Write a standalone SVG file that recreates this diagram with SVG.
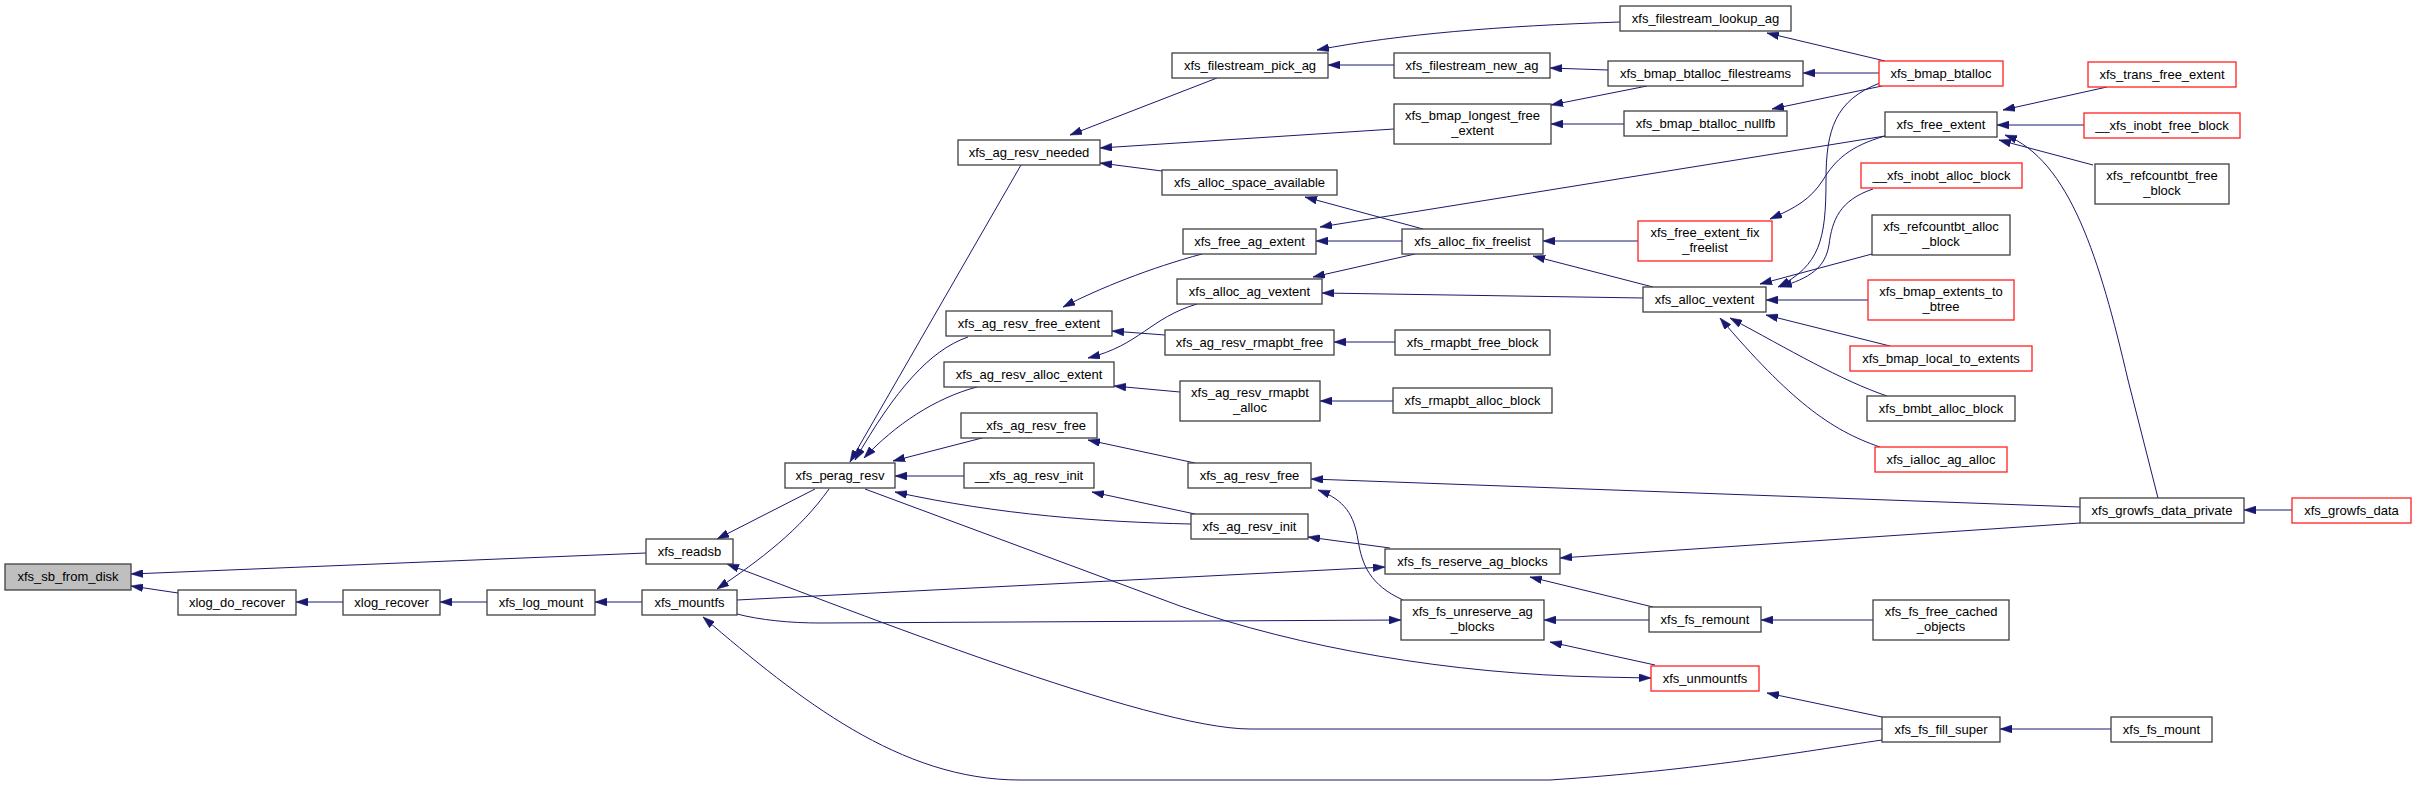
<svg xmlns="http://www.w3.org/2000/svg" width="2416" height="785" viewBox="0 0 2416 785">
<style>
.n rect{fill:#fff;stroke:#404040;stroke-width:1.3}
.r rect{fill:#fff;stroke:#ff2020;stroke-width:1.3}
.root rect{fill:#bfbfbf;stroke:#404040;stroke-width:1.3}
text{font-family:"Liberation Sans",Arial,sans-serif;font-size:13px;text-anchor:middle;fill:#000}
#edges path{fill:none;stroke:#191970;stroke-width:1;marker-end:url(#ah)}
</style>
<defs>
<marker id="ah" viewBox="0 0 12 8" refX="12" refY="4" markerWidth="12" markerHeight="8" markerUnits="userSpaceOnUse" orient="auto">
<path d="M0,0 L12,4 L0,8 z" fill="#191970" stroke="#191970" stroke-width="0.5"/>
</marker>
</defs>
<rect width="2416" height="785" fill="#fff"/>
<g id="edges">
<path d="M646,553 L131,574"/>
<path d="M178,593 L131,586"/>
<path d="M343,602 L296,602"/>
<path d="M487,602 L440,602"/>
<path d="M642,602 L595,602"/>
<path d="M815,489 L717,539"/>
<path d="M829,489 C800,530 760,560 717,589"/>
<path d="M1882,729 L1250,729 C1150,729 850,610 727,564"/>
<path d="M1882,740 C1800,752 1700,770 1550,780 L1020,780 C900,780 800,700 703,617"/>
<path d="M737,600 L1385,567"/>
<path d="M737,614 C760,620 790,623 820,623 L1401,620"/>
<path d="M865,489 L1180,606 C1300,648 1450,674 1600,677 L1651,678"/>
<path d="M1191,524 C1100,522 1000,515 895,492"/>
<path d="M964,476 L895,476"/>
<path d="M982,438 L893,461"/>
<path d="M1021,165 L850,462"/>
<path d="M968,337 C930,350 895,390 855,460"/>
<path d="M977,387 C935,398 895,425 864,458"/>
<path d="M1217,78 L1070,135"/>
<path d="M1394,129 L1100,148"/>
<path d="M1162,171 L1100,163"/>
<path d="M1202,254 C1150,268 1100,288 1063,307"/>
<path d="M1165,335 L1112,331"/>
<path d="M1197,304 C1150,318 1140,345 1088,358"/>
<path d="M1180,392 L1114,386"/>
<path d="M1620,22 C1500,26 1400,34 1317,50"/>
<path d="M1394,65 L1328,65"/>
<path d="M1608,70 L1550,68"/>
<path d="M1647,86 L1551,105"/>
<path d="M1624,124 L1551,124"/>
<path d="M1423,229 L1305,197"/>
<path d="M1885,136 L1320,227"/>
<path d="M1402,241 L1316,241"/>
<path d="M1415,254 L1313,277"/>
<path d="M1643,298 L1322,293"/>
<path d="M1638,241 L1543,241"/>
<path d="M1653,287 L1533,256"/>
<path d="M1395,342 L1334,342"/>
<path d="M1393,401 L1320,401"/>
<path d="M1885,61 L1767,33"/>
<path d="M1879,73 L1803,73"/>
<path d="M1882,86 L1772,109"/>
<path d="M1880,83 C1835,100 1826,130 1826,180 C1826,240 1820,265 1778,287"/>
<path d="M1885,136 C1850,146 1835,160 1823,180 C1810,200 1795,208 1770,219"/>
<path d="M1873,189 C1840,200 1832,220 1829,245 C1825,268 1810,278 1780,287"/>
<path d="M1872,254 L1760,284"/>
<path d="M1868,300 L1766,300"/>
<path d="M1890,346 L1766,315"/>
<path d="M1887,396 C1840,380 1790,350 1730,318"/>
<path d="M1880,447 C1830,430 1790,400 1720,318"/>
<path d="M2107,87 L2003,110"/>
<path d="M2084,125 L1997,125"/>
<path d="M2093,165 L1999,140"/>
<path d="M2158,498 L2128,380 C2100,260 2070,160 2005,135"/>
<path d="M2292,510 L2244,510"/>
<path d="M2080,507 L1311,479"/>
<path d="M2080,523 L1560,558"/>
<path d="M1653,607 L1530,577"/>
<path d="M1649,620 L1544,620"/>
<path d="M1655,665 L1550,642"/>
<path d="M1873,620 L1761,620"/>
<path d="M1882,717 L1767,693"/>
<path d="M2111,729 L2000,729"/>
<path d="M1403,600 C1370,585 1362,565 1358,540 C1354,515 1345,500 1318,490"/>
<path d="M1390,548 L1308,537"/>
<path d="M1195,463 L1088,440"/>
<path d="M1195,514 L1092,492"/>
</g>
<g id="n0" class="root"><rect x="5" y="564" width="126" height="26"/><text x="68" y="581">xfs_sb_from_disk</text></g>
<g id="n1" class="n"><rect x="646" y="539" width="87" height="25"/><text x="689.5" y="556">xfs_readsb</text></g>
<g id="n2" class="n"><rect x="178" y="590" width="118" height="25"/><text x="237" y="607">xlog_do_recover</text></g>
<g id="n3" class="n"><rect x="343" y="590" width="97" height="25"/><text x="391.5" y="607">xlog_recover</text></g>
<g id="n4" class="n"><rect x="487" y="590" width="108" height="25"/><text x="541" y="607">xfs_log_mount</text></g>
<g id="n5" class="n"><rect x="642" y="590" width="95" height="25"/><text x="689.5" y="607">xfs_mountfs</text></g>
<g id="n6" class="n"><rect x="785" y="463" width="110" height="25"/><text x="840" y="480">xfs_perag_resv</text></g>
<g id="n7" class="n"><rect x="958" y="140" width="142" height="25"/><text x="1029" y="157">xfs_ag_resv_needed</text></g>
<g id="n8" class="n"><rect x="946" y="311" width="166" height="25"/><text x="1029" y="328">xfs_ag_resv_free_extent</text></g>
<g id="n9" class="n"><rect x="944" y="362" width="170" height="25"/><text x="1029" y="379">xfs_ag_resv_alloc_extent</text></g>
<g id="n10" class="n"><rect x="961" y="413" width="136" height="25"/><text x="1029" y="430">__xfs_ag_resv_free</text></g>
<g id="n11" class="n"><rect x="964" y="463" width="130" height="25"/><text x="1029" y="480">__xfs_ag_resv_init</text></g>
<g id="n12" class="n"><rect x="1172" y="53" width="156" height="25"/><text x="1250" y="70">xfs_filestream_pick_ag</text></g>
<g id="n13" class="n"><rect x="1162" y="170" width="175" height="25"/><text x="1249.5" y="187">xfs_alloc_space_available</text></g>
<g id="n14" class="n"><rect x="1183" y="229" width="133" height="25"/><text x="1249.5" y="246">xfs_free_ag_extent</text></g>
<g id="n15" class="n"><rect x="1177" y="279" width="145" height="25"/><text x="1249.5" y="296">xfs_alloc_ag_vextent</text></g>
<g id="n16" class="n"><rect x="1165" y="330" width="169" height="25"/><text x="1249.5" y="347">xfs_ag_resv_rmapbt_free</text></g>
<g id="n17" class="n"><rect x="1180" y="381" width="140" height="40"/><text x="1250" y="397">xfs_ag_resv_rmapbt</text><text x="1250" y="412">_alloc</text></g>
<g id="n18" class="n"><rect x="1188" y="463" width="123" height="25"/><text x="1249.5" y="480">xfs_ag_resv_free</text></g>
<g id="n19" class="n"><rect x="1191" y="514" width="117" height="25"/><text x="1249.5" y="531">xfs_ag_resv_init</text></g>
<g id="n20" class="n"><rect x="1394" y="53" width="156" height="25"/><text x="1472" y="70">xfs_filestream_new_ag</text></g>
<g id="n21" class="n"><rect x="1394" y="104" width="157" height="40"/><text x="1472.5" y="120">xfs_bmap_longest_free</text><text x="1472.5" y="135">_extent</text></g>
<g id="n22" class="n"><rect x="1402" y="229" width="141" height="25"/><text x="1472.5" y="246">xfs_alloc_fix_freelist</text></g>
<g id="n23" class="n"><rect x="1395" y="330" width="155" height="25"/><text x="1472.5" y="347">xfs_rmapbt_free_block</text></g>
<g id="n24" class="n"><rect x="1393" y="388" width="159" height="25"/><text x="1472.5" y="405">xfs_rmapbt_alloc_block</text></g>
<g id="n25" class="n"><rect x="1385" y="549" width="175" height="25"/><text x="1472.5" y="566">xfs_fs_reserve_ag_blocks</text></g>
<g id="n26" class="n"><rect x="1401" y="600" width="143" height="40"/><text x="1472.5" y="616">xfs_fs_unreserve_ag</text><text x="1472.5" y="631">_blocks</text></g>
<g id="n27" class="n"><rect x="1620" y="6" width="171" height="25"/><text x="1705.5" y="23">xfs_filestream_lookup_ag</text></g>
<g id="n28" class="n"><rect x="1608" y="61" width="195" height="25"/><text x="1705.5" y="78">xfs_bmap_btalloc_filestreams</text></g>
<g id="n29" class="n"><rect x="1624" y="111" width="163" height="25"/><text x="1705.5" y="128">xfs_bmap_btalloc_nullfb</text></g>
<g id="n30" class="r"><rect x="1638" y="221" width="134" height="40"/><text x="1705" y="237">xfs_free_extent_fix</text><text x="1705" y="252">_freelist</text></g>
<g id="n31" class="n"><rect x="1643" y="287" width="123" height="25"/><text x="1704.5" y="304">xfs_alloc_vextent</text></g>
<g id="n32" class="n"><rect x="1649" y="607" width="112" height="25"/><text x="1705" y="624">xfs_fs_remount</text></g>
<g id="n33" class="r"><rect x="1651" y="666" width="108" height="25"/><text x="1705" y="683">xfs_unmountfs</text></g>
<g id="n34" class="r"><rect x="1879" y="61" width="124" height="25"/><text x="1941" y="78">xfs_bmap_btalloc</text></g>
<g id="n35" class="n"><rect x="1885" y="112" width="112" height="25"/><text x="1941" y="129">xfs_free_extent</text></g>
<g id="n36" class="r"><rect x="1861" y="163" width="161" height="25"/><text x="1941.5" y="180">__xfs_inobt_alloc_block</text></g>
<g id="n37" class="n"><rect x="1872" y="215" width="138" height="40"/><text x="1941" y="231">xfs_refcountbt_alloc</text><text x="1941" y="246">_block</text></g>
<g id="n38" class="r"><rect x="1868" y="280" width="146" height="40"/><text x="1941" y="296">xfs_bmap_extents_to</text><text x="1941" y="311">_btree</text></g>
<g id="n39" class="r"><rect x="1850" y="346" width="182" height="25"/><text x="1941" y="363">xfs_bmap_local_to_extents</text></g>
<g id="n40" class="n"><rect x="1867" y="396" width="148" height="25"/><text x="1941" y="413">xfs_bmbt_alloc_block</text></g>
<g id="n41" class="r"><rect x="1875" y="447" width="132" height="25"/><text x="1941" y="464">xfs_ialloc_ag_alloc</text></g>
<g id="n42" class="n"><rect x="1873" y="600" width="136" height="40"/><text x="1941" y="616">xfs_fs_free_cached</text><text x="1941" y="631">_objects</text></g>
<g id="n43" class="n"><rect x="1882" y="717" width="118" height="25"/><text x="1941" y="734">xfs_fs_fill_super</text></g>
<g id="n44" class="r"><rect x="2088" y="62" width="148" height="25"/><text x="2162" y="79">xfs_trans_free_extent</text></g>
<g id="n45" class="r"><rect x="2084" y="113" width="156" height="25"/><text x="2162" y="130">__xfs_inobt_free_block</text></g>
<g id="n46" class="n"><rect x="2095" y="164" width="134" height="40"/><text x="2162" y="180">xfs_refcountbt_free</text><text x="2162" y="195">_block</text></g>
<g id="n47" class="n"><rect x="2080" y="498" width="164" height="25"/><text x="2162" y="515">xfs_growfs_data_private</text></g>
<g id="n48" class="r"><rect x="2292" y="498" width="119" height="25"/><text x="2351.5" y="515">xfs_growfs_data</text></g>
<g id="n49" class="n"><rect x="2111" y="717" width="101" height="25"/><text x="2161.5" y="734">xfs_fs_mount</text></g>
</svg>
